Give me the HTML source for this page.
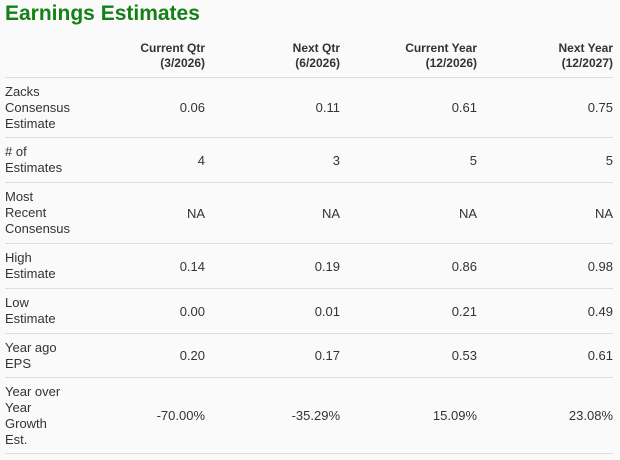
<!DOCTYPE html>
<html><head><style>
body{margin:0;background:#fafafa;width:620px;height:460px;overflow:hidden;font-family:"Liberation Sans",Arial,sans-serif;color:#333}
h1{position:absolute;left:5px;top:0;margin:0;font-size:21px;line-height:28px;color:#158015;font-weight:bold}
table{position:absolute;left:5px;top:40px;border-collapse:collapse;table-layout:fixed;width:608px}
th{font-size:12px;font-weight:bold;text-align:right;line-height:15px;padding:1px 0 6px 0;vertical-align:bottom;color:#333}
td{font-size:13px;line-height:16px;padding:6px 0 5px 0;border-top:1px solid #ddd;text-align:right;vertical-align:middle}
td:first-child{text-align:left}
tr:last-child td{border-bottom:1px solid #ddd}
</style></head><body>
<h1>Earnings Estimates</h1>
<table>
<colgroup><col style="width:75px"><col style="width:125px"><col style="width:135px"><col style="width:137px"><col style="width:136px"></colgroup>
<tr><th></th><th>Current Qtr<br>(3/2026)</th><th>Next Qtr<br>(6/2026)</th><th>Current Year<br>(12/2026)</th><th>Next Year<br>(12/2027)</th></tr>
<tr><td>Zacks<br>Consensus<br>Estimate</td><td>0.06</td><td>0.11</td><td>0.61</td><td>0.75</td></tr>
<tr><td style="padding-bottom:6px"># of<br>Estimates</td><td>4</td><td>3</td><td>5</td><td>5</td></tr>
<tr><td style="padding-bottom:6px">Most<br>Recent<br>Consensus</td><td>NA</td><td>NA</td><td>NA</td><td>NA</td></tr>
<tr><td style="padding-bottom:6px">High<br>Estimate</td><td>0.14</td><td>0.19</td><td>0.86</td><td>0.98</td></tr>
<tr><td style="padding-bottom:6px">Low<br>Estimate</td><td>0.00</td><td>0.01</td><td>0.21</td><td>0.49</td></tr>
<tr><td>Year ago<br>EPS</td><td>0.20</td><td>0.17</td><td>0.53</td><td>0.61</td></tr>
<tr><td>Year over<br>Year<br>Growth<br>Est.</td><td>-70.00%</td><td>-35.29%</td><td>15.09%</td><td>23.08%</td></tr>
</table>
</body></html>
